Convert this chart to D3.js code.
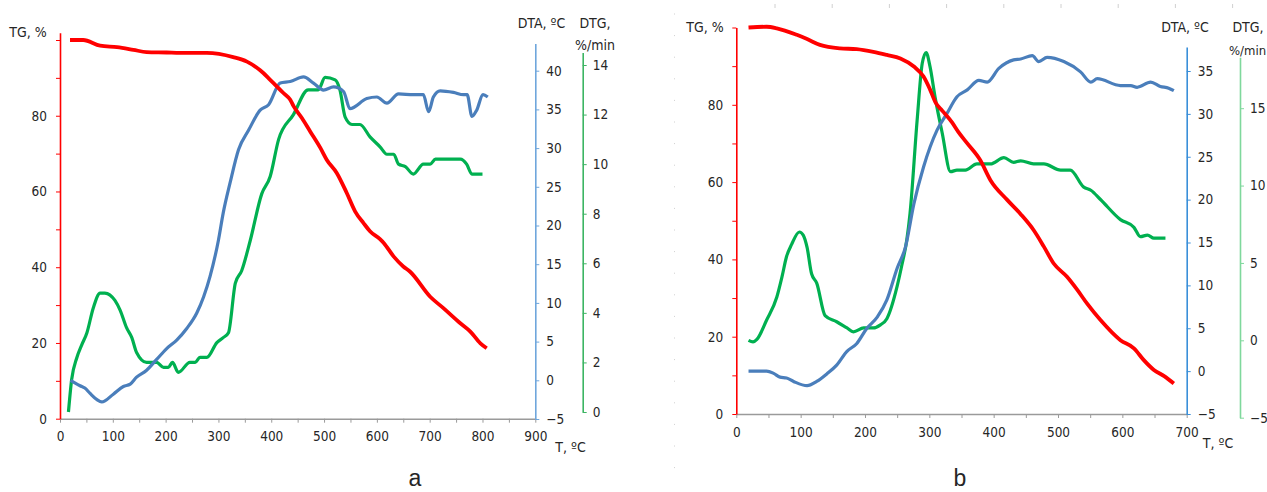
<!DOCTYPE html>
<html><head><meta charset="utf-8">
<script src="https://cdn.jsdelivr.net/npm/d3@7"></script>
<style>
body{margin:0;background:#fff}
text{font-family:"Liberation Sans Narrow","DejaVu Sans Condensed","Roboto",sans-serif;fill:#262626}
</style>
</head><body>
<svg id="c" width="1267" height="492"></svg>
<script>
// ---------- Panel a data ----------
const aTG_T  = [19,44,76,108,139,164,202,227,278,328,354,379,398,423,436,442,458,474,493,505,524,543,559,575,587,606,613,632,650,663,701,726,758,777,796,808];
const aTG    = [100,100,98.5,98.1,97.4,96.8,96.7,96.6,96.6,95.5,94.3,92,89.5,86,84.2,82.6,79.4,75.8,71.5,68.4,64.9,59.6,54.7,51.6,49.5,47.4,46.4,42.8,40.2,38.8,32.2,29.2,25.2,23,19.9,18.6];
const aDTA_T = [20,38,47,57,70,79,101,120,133,145,164,183,202,221,240,259,272,284,300,309,322,338,357,379,395,417,436,461,480,499,518,537,549,581,600,619,641,669,688,698,707,720,745,764,771,780,789,801,810];
const aDTA   = [0,-0.7,-1.0,-1.7,-2.5,-2.8,-1.8,-0.8,-0.5,0.4,1.3,2.7,4.1,5.2,6.7,8.7,10.8,13.4,18.1,21.6,25.5,29.8,32.3,34.9,35.6,38.4,38.6,39.2,38.4,37.5,37.9,37.3,35.1,36.4,36.6,35.8,37.0,36.9,36.9,34.7,36.6,37.4,37.2,36.9,36.9,34.1,34.9,36.9,36.6];
const aDTG_T = [16,22,32,41,51,63,76,85,104,114,126,136,145,164,183,196,205,213,224,246,256,265,278,297,309,319,332,344,360,382,398,414,442,470,489,502,521,530,540,553,568,587,606,619,632,641,654,669,688,701,711,739,758,770,780,800];
const aDTG   = [0,1.3,2.2,2.7,3.2,4.2,4.8,4.8,4.5,4.1,3.4,3.0,2.4,2.0,2.0,1.8,1.8,2.0,1.6,2.0,2.0,2.2,2.2,2.8,3.0,3.2,5.2,5.7,6.9,8.8,9.5,11.0,12.0,13.0,13.0,13.5,13.4,13.0,11.9,11.6,11.6,11.1,10.7,10.4,10.4,10.0,9.9,9.6,10.0,10.0,10.2,10.2,10.2,10.0,9.6,9.6];

// ---------- Panel b data ----------
const bTG_T  = [19,47,63,94,110,130,161,187,213,234,255,276,291,301,310,320,335,345,359,379,395,421,442,462,478,493,514,530,545,566,597,618,633,649,665,680];
const bTG    = [100,100.2,99.8,98.1,97.0,95.5,94.6,94.4,93.7,92.9,92.0,89.9,87.3,84,80.5,78.5,75.5,73,70,65.7,60.5,55.4,51.7,47.6,43.3,39,35.5,32.1,28.6,24.3,19.1,17,14,11.4,9.8,7.9];
const bDTA_T = [19,47,58,68,78,89,110,125,141,156,172,187,203,219,234,250,263,276,291,312,327,343,359,377,390,408,431,442,460,470,483,509,535,551,561,597,613,623,644,659,672,680];
const bDTA   = [0,0,-0.26,-0.7,-0.8,-1.2,-1.7,-1.2,-0.3,0.7,2.3,3.2,5.0,6.3,8.3,12,14.5,19.5,23.8,28.1,30.0,32.0,32.8,33.9,33.7,35.3,36.3,36.4,36.8,36.1,36.6,36.1,34.9,33.7,34.1,33.3,33.3,33.1,33.7,33.2,33.0,32.7];
const bDTG_T = [19,26,32,47,63,71,78,86,98,104,110,117,125,138,156,172,182,198,213,224,234,250,257,265,270,281,289,295,301,309,320,333,343,356,374,395,416,431,442,462,478,504,519,540,551,566,597,618,628,639,649,667];
const bDTG   = [0,-0.1,0.06,1.3,2.8,4.1,5.4,6.2,7.0,6.8,6.0,4.3,3.7,1.6,1.2,0.8,0.55,0.8,0.8,1.0,1.4,3.5,4.8,6.5,8.2,14.2,17.9,18.6,17.7,15.7,13.4,10.9,11.0,11.0,11.4,11.4,11.8,11.5,11.6,11.4,11.4,11.0,11.0,9.9,9.7,9.1,7.8,7.3,6.7,6.8,6.6,6.6];

// ---------- Tick / label lists ----------
const tgTicks = [0,10,20,30,40,50,60,70,80,90,100];
const tgLabels = [0,20,40,60,80];
const aXTicks = d3.range(0, 901, 50);
const bXTicks = d3.range(0, 701, 50);
const aDTATicks = [-5,0,5,10,15,20,25,30,35,40];
const bDTATicks = [-5,0,5,10,15,20,25,30,35];
const aDTGTicks = [0,2,4,6,8,10,12,14];
const bDTGTicks = [-5,0,5,10,15];

const RED = "#ff0000", BLUE = "#4a7ebb", GREEN = "#00b050";
const FONT = '"Liberation Sans Narrow","DejaVu Sans Condensed",sans-serif';
const svg = d3.select("#c");

function drawAxis(g, axis, lineColor, tickColor) {
  g.call(axis);
  g.select(".domain").attr("stroke", lineColor).attr("stroke-width", 1.6);
  g.selectAll(".tick line").attr("stroke", tickColor).attr("stroke-width", 1);
  g.selectAll(".tick text").attr("font-size", 13.5).attr("fill", "#262626").style("font-family", FONT);
}

function panel(p) {
  const g = svg.append("g");
  const x = d3.scaleLinear().domain([0, p.xMax]).range([p.x0, p.x1]);
  const yTG = d3.scaleLinear().domain([0, 100]).range([p.yBase, p.yTG100]);
  const yDTA = d3.scaleLinear().domain(p.dtaDom).range(p.dtaRange);
  const yDTG = d3.scaleLinear().domain(p.dtgDom).range(p.dtgRange);

  const xa = g.append("g").attr("transform", `translate(0,${p.yBase})`);
  drawAxis(xa, d3.axisBottom(x).tickValues(p.xTicks).tickSize(4).tickSizeOuter(0)
    .tickPadding(9).tickFormat(d => d % 100 === 0 ? d : ""), "#9a9a9a", "#9a9a9a");

  const yTGax = yTG.copy().domain([0, p.tgTop]).range([p.yBase, yTG(p.tgTop)]);
  const ta = g.append("g").attr("transform", `translate(${p.x0},0)`);
  drawAxis(ta, d3.axisLeft(yTGax).tickValues(tgTicks).tickSize(4).tickSizeOuter(0).tickPadding(9)
    .tickFormat(d => tgLabels.includes(d) ? d : ""), RED, RED);

  const yDTAax = yDTA.copy().domain([p.dtaDom[0], p.dtaTop]).range([yDTA(p.dtaDom[0]), yDTA(p.dtaTop)]);
  const da = g.append("g").attr("transform", `translate(${p.x1},0)`);
  drawAxis(da, d3.axisRight(yDTAax).tickValues(p.dtaTicks).tickSize(4).tickSizeOuter(0).tickPadding(7),
    p.dtaColor, p.dtaColor);

  const yDTGax = yDTG.copy().domain([p.dtgDom[0], p.dtgTop]).range([yDTG(p.dtgDom[0]), yDTG(p.dtgTop)]);
  const ga = g.append("g").attr("transform", `translate(${p.dtgX},0)`);
  drawAxis(ga, d3.axisRight(yDTGax).tickValues(p.dtgTicks).tickSize(4).tickSizeOuter(0).tickPadding(6),
    p.dtgColor, p.dtgColor);

  const mk = (xs, ys, yS) => d3.line().curve(d3.curveMonotoneX)
    .x((d, i) => x(xs[i])).y((d, i) => yS(ys[i]))(ys);

  g.append("path").attr("d", mk(p.dtgT, p.dtg, yDTG)).attr("fill", "none")
    .attr("stroke", GREEN).attr("stroke-width", 3.2).attr("stroke-linejoin", "round");
  g.append("path").attr("d", mk(p.dtaT, p.dta, yDTA)).attr("fill", "none")
    .attr("stroke", BLUE).attr("stroke-width", 3.2).attr("stroke-linejoin", "round");
  g.append("path").attr("d", mk(p.tgT, p.tg, yTG)).attr("fill", "none")
    .attr("stroke", RED).attr("stroke-width", 3.8).attr("stroke-linejoin", "round");

  const t = (txt, tx, ty, anchor, size, fam) => g.append("text").attr("x", tx).attr("y", ty)
    .attr("text-anchor", anchor || "middle").attr("font-size", size || 14)
    .style("font-family", fam || FONT).text(txt);
  t("TG, %", p.tgLab[0], p.tgLab[1]);
  t("DTA, ºC", p.dtaLab[0], p.dtaLab[1]);
  t("DTG,", p.dtgLab[0], p.dtgLab[1]);
  t("%/min", p.dtgLab2[0], p.dtgLab2[1], p.dtgLab2[2] || "middle", p.dtgLab2[3] || 14);
  t("T, ºC", p.tLab[0], p.tLab[1]);
  t(p.letter, p.letterPos[0], p.letterPos[1], "middle", 23, '"Liberation Sans",Arial,sans-serif');
}

panel({
  x0: 60, x1: 535.3, xMax: 900, yBase: 418.7, yTG100: 40, tgTop: 101.9, xTicks: aXTicks,
  dtaDom: [-5, 40], dtaRange: [419, 70.7], dtaTop: 43.5, dtaTicks: aDTATicks, dtaColor: "#6fa6dc",
  dtgX: 582.7, dtgDom: [0, 14], dtgRange: [412, 65], dtgTop: 14.5, dtgTicks: aDTGTicks, dtgColor: "#3cb563",
  tgT: aTG_T, tg: aTG, dtaT: aDTA_T, dta: aDTA, dtgT: aDTG_T, dtg: aDTG,
  tgLab: [28, 37], dtaLab: [541.5, 28], dtgLab: [595, 28], dtgLab2: [595, 50], tLab: [570.5, 452],
  letter: "a", letterPos: [415, 486]
});

panel({
  x0: 736.3, x1: 1186.7, xMax: 700, yBase: 414, yTG100: 27.5, tgTop: 100, xTicks: bXTicks,
  dtaDom: [-5, 35], dtaRange: [414, 71], dtaTop: 37.8, dtaTicks: bDTATicks, dtaColor: "#3a8fd9",
  dtgX: 1240, dtgDom: [-5, 15], dtgRange: [417.7, 108.2], dtgTop: 18.3, dtgTicks: bDTGTicks, dtgColor: "#7fd89c",
  tgT: bTG_T, tg: bTG, dtaT: bDTA_T, dta: bDTA, dtgT: bDTG_T, dtg: bDTG,
  tgLab: [705, 32], dtaLab: [1185, 32], dtgLab: [1248, 32], dtgLab2: [1229, 55, "start", 13], tLab: [1218, 448],
  letter: "b", letterPos: [960, 486]
});

const deco = svg.append("g").attr("stroke", "#d0d0d0").attr("stroke-width", 1);
d3.range(775, 1240, 57.2).forEach(v => deco.append("line").attr("x1", v).attr("x2", v).attr("y1", 4).attr("y2", 8));
d3.range(14, 475, 21.6).forEach(v => deco.append("line").attr("x1", 674).attr("x2", 675).attr("y1", v).attr("y2", v));
</script>
</body></html>
